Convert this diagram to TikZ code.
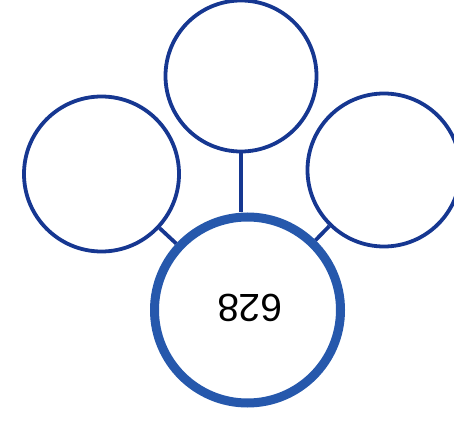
\documentclass[tikz,border=0pt]{standalone}
\usepackage{fontspec}
\setmainfont{Liberation Sans}
\definecolor{thinblue}{RGB}{22,55,145}
\definecolor{thickblue}{RGB}{38,88,172}
\tikzset{
  thincirc/.style={circle, draw=thinblue, line width=3.8pt, inner sep=0pt},
  thickcirc/.style={circle, draw=thickblue, line width=9pt, inner sep=0pt},
  conn/.style={draw=thinblue, line width=3.8pt},
  numtext/.style={font=\fontsize{39}{39}\selectfont, text=black, rotate=180, inner sep=0pt}
}
\begin{document}
\begin{tikzpicture}[x=1pt,y=-1pt]
\useasboundingbox (0,0) rectangle (454,427);
\clip (0,0) rectangle (454,427);
\node[thincirc, minimum size=151pt] (top) at (241,76) {};
\node[thincirc, minimum size=155pt] (left) at (101.5,174) {};
\node[thincirc, minimum size=153pt] (right) at (384,170) {};
\node[thickcirc, minimum size=186pt] (bottom) at (247.5,310) {};
\node[numtext] (num) at (250,307.5) {628};
\draw[conn] (top.south) -- (top.south |- bottom.north);
\draw[conn] (left) -- (bottom);
\draw[conn] (right) -- (bottom);
\end{tikzpicture}
\end{document}
